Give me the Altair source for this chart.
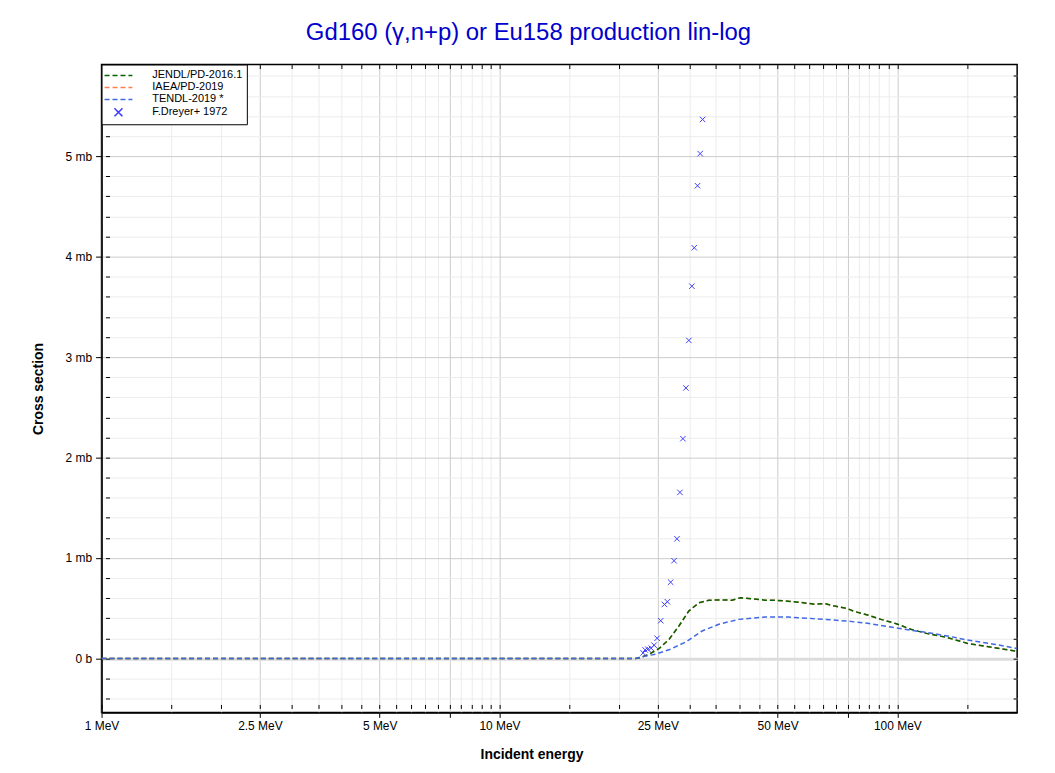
import altair as alt
import pandas as pd

# ---------------- data (energies in MeV, cross sections in mb) ----------------
jendl_e = [1, 22.0, 22.7, 23.8, 25.2, 26.7, 28.25, 29.9, 31.7, 33.6, 36, 38.4, 40.3, 43,
           46.5, 50, 53.2, 57, 61.9, 65.7, 69.6, 74.7, 78, 84.2, 91, 99.4, 108.1, 119,
           133.5, 149.7, 168, 200]
jendl_mb = [0, 0, 0.01, 0.043, 0.099, 0.191, 0.323, 0.471, 0.554, 0.58, 0.582, 0.58, 0.604,
            0.595, 0.58, 0.578, 0.57, 0.558, 0.54, 0.545, 0.521, 0.498, 0.468, 0.432, 0.389,
            0.346, 0.29, 0.247, 0.208, 0.151, 0.119, 0.07]

iaea_e = list(jendl_e)
iaea_mb = list(jendl_mb)

tendl_e = [1, 22.0, 22.7, 24.7, 26.9, 29.4, 32.3, 35.6, 39.9, 46.5, 53.2, 61.9, 74.7, 84.2,
           99.4, 119, 133.5, 149.7, 174.6, 200]
tendl_mb = [0, 0, 0.015, 0.043, 0.092, 0.164, 0.273, 0.34, 0.389, 0.412, 0.412, 0.396, 0.372,
            0.35, 0.303, 0.257, 0.224, 0.184, 0.142, 0.1]

exp_e = [22.97, 23.23, 23.6, 24.05, 24.47, 24.9, 25.43, 25.98, 26.43, 26.93, 27.46, 27.93,
         28.42, 28.91, 29.41, 29.92, 30.45, 30.87, 31.46, 31.95, 32.4]
exp_mb = [0.055, 0.085, 0.092, 0.102, 0.132, 0.201, 0.376, 0.538, 0.564, 0.759, 0.973, 1.191,
          1.653, 2.188, 2.693, 3.166, 3.706, 4.089, 4.706, 5.026, 5.366]

names = ["JENDL/PD-2016.1", "IAEA/PD-2019", "TENDL-2019 *", "F.Dreyer+ 1972"]
colors = ["#006400", "#ff7f50", "#4169e1", "#3c3cff"]
dashes = [[5, 3], [5, 3], [5, 3], [1, 0]]
LINE = "M-2.33,0L2.33,0"
CROSS = "M-0.67,-0.67L0.67,0.67M-0.67,0.67L0.67,-0.67"
shapes = [LINE, LINE, LINE, CROSS]

x_ticks = [1, 1.5, 2, 2.5, 3, 3.5, 4, 4.5, 5, 5.5, 6, 6.5, 7, 7.5, 8, 8.5, 9, 9.5, 10,
           15, 20, 25, 30, 35, 40, 45, 50, 55, 60, 65, 70, 75, 80, 85, 90, 95, 100, 150]
x_labeled = [1, 2.5, 5, 10, 25, 50, 100]
x_major = [1, 2.5, 5, 7.5, 10, 25, 50, 75, 100]
y_ticks = [-0.4, -0.2, 0, 0.2, 0.4, 0.6, 0.8, 1, 1.2, 1.4, 1.6, 1.8, 2, 2.2, 2.4, 2.6, 2.8,
           3, 3.2, 3.4, 3.6, 3.8, 4, 4.2, 4.4, 4.6, 4.8, 5, 5.2, 5.4, 5.6, 5.8]


def frame(e, s, name):
    return pd.DataFrame({"E": e, "xs": s, "lib": name})


FONT = "Liberation Sans"
W, H = 920, 651
xl = "[" + ",".join(str(v) for v in x_labeled) + "]"
xm = "[" + ",".join(str(v) for v in x_major) + "]"

x_axis = alt.Axis(
    values=x_ticks,
    labelExpr=f"indexof({xl}, datum.value) >= 0 ? datum.value + ' MeV' : ''",
    labelOverlap=False, labelFlush=False, labelFontSize=12, labelColor="black",
    labelPadding=3,
    tickColor="black",
    tickSize={"condition": {"test": f"indexof({xm}, datum.value) >= 0", "value": 5}, "value": 0},
    gridColor={"condition": {"test": f"indexof({xm}, datum.value) >= 0", "value": "#cccccc"},
               "value": "#ececec"},
    gridWidth=1,
    domainColor="black", domainWidth=1.5,
    title="Incident energy", titleFontSize=14, titleFontWeight="bold", titleColor="black",
    titlePadding=16, titleX=432,
)
y_axis = alt.Axis(
    values=y_ticks,
    labelExpr="datum.value === 0 ? '0 b' : (datum.value % 1 === 0 ? datum.value + ' mb' : '')",
    labelOverlap=False, labelFontSize=12, labelColor="black", labelPadding=4,
    tickColor="black",
    tickSize={"condition": {"test": "datum.value % 1 === 0", "value": 6}, "value": 0},
    gridColor={"condition": [{"test": "datum.value === 0", "value": "#dcdcdc"},
                             {"test": "datum.value % 1 === 0", "value": "#cccccc"}],
               "value": "#ececec"},
    gridWidth={"condition": {"test": "datum.value === 0", "value": 3}, "value": 1},
    domainColor="black", domainWidth=1.5,
    title="Cross section", titleFontSize=14, titleFontWeight="bold", titleColor="black",
    titlePadding=20,
)


def inner_ticks(values, orient, offset):
    # tick-only axis pushed inside the frame so that its ticks point inward
    return alt.Axis(values=values, orient=orient, offset=offset, labels=False, domain=False,
                    grid=False, title=None, tickColor="black", tickSize=4, tickWidth=1)


xs = alt.Scale(type="log", domain=[1, 200], nice=False)
ys = alt.Scale(domain=[-0.5375, 5.9125], nice=False, zero=False)

legend = alt.Legend(
    title=None, orient="top-left", offset=0, padding=4, rowPadding=0,
    fillColor="white", strokeColor="black",
    labelFont=FONT, labelFontSize=11, labelColor="black",
    symbolOffset=6, labelOffset=27,
    symbolStrokeWidth=1.5, symbolSize=144,
)

color = alt.Color("lib:N", scale=alt.Scale(domain=names, range=colors), legend=legend)
dash = alt.StrokeDash("lib:N", scale=alt.Scale(domain=names, range=dashes), legend=legend)
shape = alt.Shape("lib:N", scale=alt.Scale(domain=names, range=shapes), legend=legend)
X_main = alt.X("E:Q", scale=xs, axis=x_axis)
Y_main = alt.Y("xs:Q", scale=ys, axis=y_axis)
X_none = alt.X("E:Q", scale=xs, axis=None)
Y_none = alt.Y("xs:Q", scale=ys, axis=None)


def line_layer(e, s, name, x, y):
    return alt.Chart(frame(e, s, name)).mark_line(
        strokeWidth=1.5, clip=True
    ).encode(x=x, y=y, color=color, strokeDash=dash)


iaea = line_layer(iaea_e, iaea_mb, names[1], X_main, Y_main)
jendl = line_layer(jendl_e, jendl_mb, names[0], X_none, Y_none)
tendl = line_layer(tendl_e, tendl_mb, names[2], X_none, Y_none)
points = alt.Chart(frame(exp_e, exp_mb, names[3])).mark_point(
    filled=False, strokeWidth=1, opacity=1, size=67, clip=True
).encode(x=X_none, y=Y_none, color=color, shape=shape)

# invisible layers that only carry the inward tick marks of the frame
ticks_tr = alt.Chart(frame(exp_e, exp_mb, names[3])).mark_point(opacity=0).encode(
    x=alt.X("E:Q", scale=xs, axis=inner_ticks(x_ticks, "top", -4)),
    y=alt.Y("xs:Q", scale=ys, axis=inner_ticks(y_ticks, "right", -4)),
)
ticks_bl = alt.Chart(frame(exp_e, exp_mb, names[3])).mark_point(opacity=0).encode(
    x=alt.X("E:Q", scale=xs, axis=inner_ticks(x_ticks, "top", -(H - 4))),
    y=alt.Y("xs:Q", scale=ys, axis=inner_ticks(y_ticks, "right", -(W - 4))),
)

chart = alt.layer(iaea, jendl, tendl, points, ticks_tr, ticks_bl).resolve_axis(
    x="independent", y="independent"
).properties(
    width=W, height=H,
    autosize=alt.AutoSizeParams(type="none"),
    padding={"left": 94, "top": 55, "right": 30, "bottom": 50},
    title=alt.Title("Gd160 (γ,n+p) or Eu158 production lin-log", fontSize=24,
                    font=FONT, fontWeight="normal", color="#0000cc", anchor="middle",
                    offset=19, dx=-31),
).configure(font=FONT).configure_view(stroke="black", strokeWidth=1.5)

chart.save("out.html", embed_options={"renderer": "svg", "actions": False})
